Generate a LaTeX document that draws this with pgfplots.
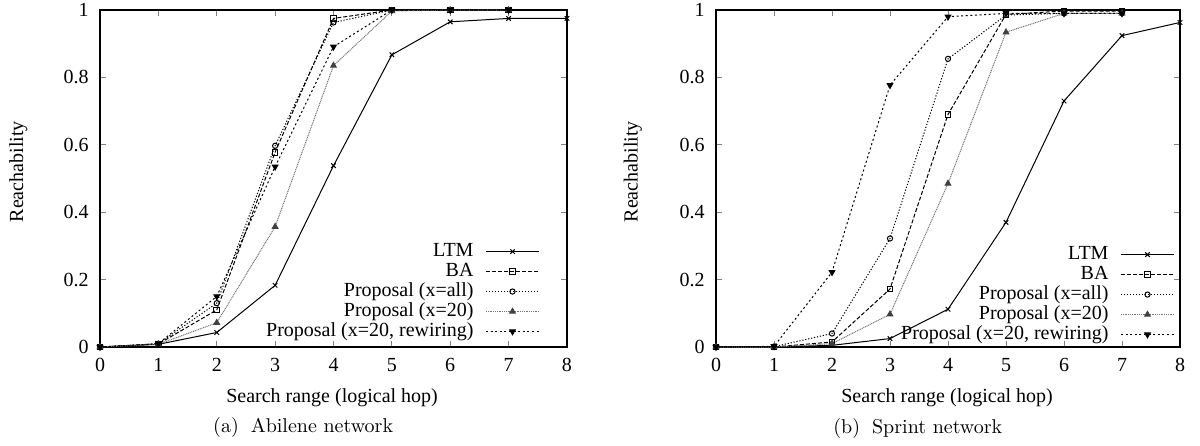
\documentclass[border=0pt]{standalone}
\usepackage{fontspec}
\usepackage{pgfplots}
\usepackage{pgfplotstable}
\pgfplotsset{compat=1.18}
\newfontfamily\tms{Liberation Serif}

% reachability per hop, Abilene
\pgfplotstableread{
x ltm ba pall p20 prew
0 0 0 0 0 0
1 0.008 0.009 0.010 0.008 0.010
2 0.043 0.110 0.130 0.072 0.150
3 0.183 0.578 0.597 0.357 0.535
4 0.538 0.975 0.963 0.835 0.891
5 0.867 1.000 1.000 0.997 1.000
6 0.965 1.000 1.000 1.000 1.000
7 0.975 1.000 1.000 1.000 1.000
8 0.975 nan nan nan nan
}\abilene

% reachability per hop, Sprint
\pgfplotstableread{
x ltm ba pall p20 prew
0 0 0 0 0 0
1 0 0 0.001 0 0.002
2 0.005 0.015 0.040 0.010 0.222
3 0.025 0.172 0.322 0.097 0.777
4 0.112 0.690 0.855 0.485 0.980
5 0.370 0.987 0.985 0.934 0.990
6 0.730 0.997 0.990 0.990 0.990
7 0.924 0.997 0.990 0.990 0.990
8 0.963 nan nan nan nan
}\sprint

\tikzset{lbl/.style={font=\tms\fontsize{10}{10}\selectfont}}

\pgfplotsset{
  ltm/.style={black, line width=0.5pt, solid, mark=x, mark size=1.6pt, mark options={solid}},
  ba/.style={black, line width=0.5pt, dash pattern=on 2pt off 1pt, mark=square, mark size=1.4pt, mark options={solid}},
  pall/.style={black, line width=0.5pt, dash pattern=on 0.6pt off 0.9pt, mark=o, mark size=1.3pt, mark options={solid}},
  p20/.style={black!55, line width=0.5pt, dash pattern=on 0.5pt off 0.4pt, mark=triangle*, mark size=1.6pt, mark options={solid, black!75}},
  prew/.style={black, line width=0.5pt, dash pattern=on 1pt off 1.3pt, mark=triangle*, mark size=1.6pt, mark options={solid, rotate=180}},
  reach/.style={
    anchor=south west,
    scale only axis,
    height=168.5pt,
    xmin=0, xmax=8, ymin=0, ymax=1,
    xtick={0,...,8},
    ytick={0,0.2,0.4,0.6,0.8,1},
    axis line style={line width=0.75pt},
    major tick style={line width=0.5pt},
    major tick length=3pt,
    font=\tms\fontsize{10}{12}\selectfont,
    /pgf/number format/assume math mode=true,
    yticklabel style={inner sep=0pt, xshift=-5.5pt},
    xticklabel style={inner sep=0pt, yshift=-5.5pt},
    clip=false,
    legend plot pos=right,
    legend cell align=right,
    legend image code/.code={\draw[mark repeat=2,mark phase=2] plot coordinates {(0pt,0pt)(13.25pt,0pt)(26.5pt,0pt)};},
    legend style={draw=none, fill=none, inner sep=0pt, column sep=6pt, row sep=1pt,
      font=\tms\fontsize{10}{10}\selectfont,
      nodes={inner sep=0pt, text height=7pt, text depth=2pt}},
  },
}

\begin{document}
\begin{tikzpicture}
\path (0,0) rectangle (600pt,220.5pt);

\begin{axis}[reach, at={(50pt,47pt)}, width=233.5pt,
  legend style={at={(axis description cs:0.942,0.018)}, anchor=south east}]
\addplot[ltm] table[x=x, y=ltm] {\abilene};
\addlegendentry{LTM}
\addplot[ba] table[x=x, y=ba] {\abilene};
\addlegendentry{BA}
\addplot[pall] table[x=x, y=pall] {\abilene};
\addlegendentry{Proposal (x=all)}
\addplot[p20] table[x=x, y=p20] {\abilene};
\addlegendentry{Proposal (x=20)}
\addplot[prew] table[x=x, y=prew] {\abilene};
\addlegendentry{Proposal (x=20, rewiring)}
\node[rotate=90, lbl] at (axis description cs:-0.175,0.52) {Reachability};
\node[lbl] at (axis description cs:0.497,-0.151) {Search range (logical hop)};
\node[font=\fontsize{10}{10}\selectfont] at (axis description cs:0.435,-0.240) {(a)\hspace{0.6em}Abilene network};
\end{axis}

\begin{axis}[reach, at={(358pt,47pt)}, width=232pt,
  legend style={at={(axis description cs:0.989,0.009)}, anchor=south east}]
\addplot[ltm] table[x=x, y=ltm] {\sprint};
\addlegendentry{LTM}
\addplot[ba] table[x=x, y=ba] {\sprint};
\addlegendentry{BA}
\addplot[pall] table[x=x, y=pall] {\sprint};
\addlegendentry{Proposal (x=all)}
\addplot[p20] table[x=x, y=p20] {\sprint};
\addlegendentry{Proposal (x=20)}
\addplot[prew] table[x=x, y=prew] {\sprint};
\addlegendentry{Proposal (x=20, rewiring)}
\node[rotate=90, lbl] at (axis description cs:-0.179,0.52) {Reachability};
\node[lbl] at (axis description cs:0.498,-0.151) {Search range (logical hop)};
\node[font=\fontsize{10}{10}\selectfont] at (axis description cs:0.435,-0.243) {(b)\hspace{0.6em}Sprint network};
\end{axis}
\end{tikzpicture}
\end{document}
